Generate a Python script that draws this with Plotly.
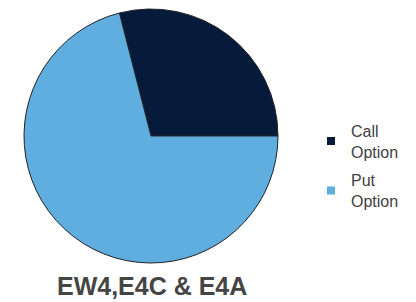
import plotly.graph_objects as go

labels = ["Call Option", "Put Option"]
legend_names = ["Call<br>Option", "Put<br>Option"]
values = [29, 71]
colors = ["#061a3c", "#60ade0"]
title_text = "EW4,E4C & E4A"

# first slice ends at 3 o'clock, growing counterclockwise from there
start_rotation = 90 - 360 * values[0] / sum(values)

fig = go.Figure()
fig.add_trace(go.Pie(
    labels=labels, values=values, sort=False,
    direction="clockwise", rotation=start_rotation,
    marker=dict(colors=colors, line=dict(color="#222222", width=1)),
    textinfo="none", hoverinfo="label+percent", showlegend=False,
    domain=dict(x=[16/416, 270/416], y=[1-255/302, 1-1/302]),
))
for i, (n, c) in enumerate(zip(legend_names, colors)):
    fig.add_trace(go.Scatter(x=[None], y=[None], mode="markers", name=n,
                             legendgroup="g%d" % i,
                             marker=dict(symbol="square", size=8, color=c)))

fig.update_layout(
    width=416, height=302,
    margin=dict(l=0, r=0, t=0, b=0),
    paper_bgcolor="white", plot_bgcolor="white",
    xaxis=dict(visible=False), yaxis=dict(visible=False),
    legend=dict(x=303/416, y=0.65, xanchor="left", yanchor="top",
                font=dict(family="Liberation Sans, Arial, sans-serif", size=16, color="#404040"),
                itemwidth=30, tracegroupgap=5, bgcolor="rgba(0,0,0,0)"),
    annotations=[dict(text="<b>" + title_text + "</b>", x=144/416, y=1-278/302,
                      xref="paper", yref="paper", showarrow=False,
                      xanchor="center", yanchor="middle",
                      font=dict(family="Liberation Sans, Arial, sans-serif", size=25, color="#454545"))],
)
fig.write_html("out.html")
